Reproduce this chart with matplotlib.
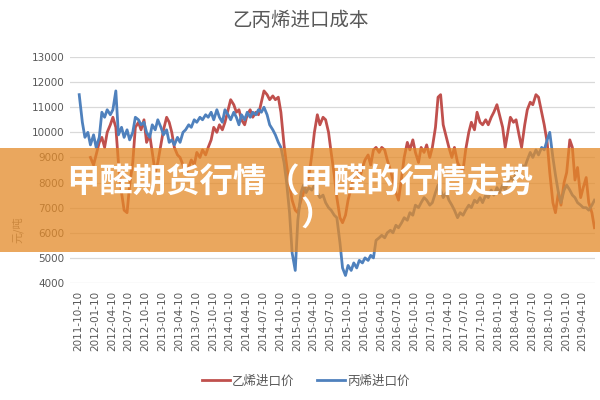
import numpy as np
import pandas as pd
import matplotlib
matplotlib.use("Agg")
import matplotlib.pyplot as plt
from matplotlib.patches import Rectangle

plt.rcParams['font.family'] = ['Noto Sans CJK SC', 'DejaVu Sans']

title = "乙丙烯进口成本"
ylabel = "元/吨"
series_names = ["乙烯进口价", "丙烯进口价"]
banner_line1 = "甲醛期货行情（甲醛的行情走势"
banner_line2 = "）"

# semi-monthly readings, first point mid Oct 2011
propylene = [
    11500, 10400, 9800, 10000, 9500, 9900, 9400, 9800, 10800, 10600,
    10900, 10700, 10900, 11650, 9900, 10200, 9800, 10100, 9700, 10000,
    10600, 10500, 10300, 10400, 10000, 9800, 10300, 10100, 10500, 10200,
    9900, 10100, 9600, 9700, 9500, 9800, 9600, 10000, 10100, 10300,
    10200, 10500, 10400, 10600, 10500, 10700, 10600, 10800, 10500, 10900,
    10600, 10400, 10900, 10700, 10500, 10800, 10600, 10300, 10700, 10500,
    10800, 10600, 10800, 10700, 10900, 10800, 11000, 10700, 10300, 10100,
    9900, 9600, 9400, 8800, 8000, 6800, 5200, 4500, 6500, 7600,
    7900, 7600, 7800, 7700, 7900, 7600, 7400, 7500, 7200, 7000,
    6900, 6700, 6600, 5600, 4600, 4300, 4700, 4500, 4800, 4600,
    4900, 4800, 5000, 4900, 5100, 5000, 5700, 5800, 5900, 5800,
    6000, 6100, 6000, 6300, 6200, 6400, 6600, 6500, 6800, 6700,
    7100, 7000, 7200, 7400, 7300, 7100, 7200, 7600, 7900, 7700,
    7400, 7600, 7300, 7100, 6900, 6600, 6800, 6700, 6900, 7100,
    7000, 7300, 7200, 7400, 7200, 7500, 7400, 7700, 7500, 7800,
    7600, 7900, 7700, 8000, 8200, 8100, 8400, 8500, 8700, 8600,
    8900, 9200, 9000, 9300, 9100, 9400, 9300, 9700, 10000, 9000,
    8300, 7600, 7200, 7700, 7900, 7700, 7500, 7400, 7200, 7100,
    7000, 7000, 6900, 7100, 7300,
]

ethylene = [
    None, None, None, None, 9000, 8700, 9100, 9600, 9800, 9400,
    10000, 10300, 10600, 10200, 8800, 7600, 6900, 6800, 7900, 8800,
    10200, 10400, 10100, 10500, 9600, 9900, 9200, 8400, 8800, 9500,
    10100, 10600, 10400, 10000, 9400, 9100, 9000, 8700, 8300, 8600,
    8900, 8700, 9200, 9000, 9300, 9100, 9400, 9700, 10200, 10000,
    10300, 10100, 10400, 10900, 11300, 11100, 10800, 10900, 10500, 10300,
    10700, 10900, 10600, 10800, 10700, 11200, 11650, 11500, 11300, 11450,
    11300, 11400, 10800, 9500, 8700, 7900, 7300, 6900, 6800, 7300,
    7600, 7900, 8200, 9100, 10000, 10700, 10300, 10600, 10500, 10000,
    9200, 8300, 7400, 6600, 6400, 6700, 7300, 7800, 8300, 8500,
    8100, 8600, 8900, 9100, 8700, 9300, 9400, 9200, 9400, 9300,
    8900, 8500, 8100, 7600, 7300, 8200, 9000, 9600, 9300, 9700,
    9200, 8800, 9400, 9200, 9500, 9000, 9400, 10200, 11400, 11500,
    10300, 9800, 9400, 9000, 9400, 8800, 8600, 8500, 9300, 10000,
    10400, 10100, 10800, 10400, 10300, 10500, 10300, 10600, 10800, 11100,
    10700, 10200, 9400, 10000, 10600, 10400, 10500, 9900, 9400, 10300,
    10900, 11200, 11100, 11500, 11400, 10800, 10300, 9600, 8400, 7200,
    6800, 7600, 7100, 8000, 8400, 9700, 9400, 8100, 8600, 7400,
    7800, 8200, 7200, 6800, 6200,
]

dates = pd.date_range("2011-10-10", periods=len(propylene), freq="SMS")
eth = np.array([np.nan if v is None else v for v in ethylene], dtype=float)
pro = np.array(propylene, dtype=float)

tick_dates = pd.date_range("2011-10-01", "2019-04-01", freq="QS-OCT") + pd.Timedelta(days=9)
tick_labels = [d.strftime("%Y-%m-%d") for d in tick_dates]

fig = plt.figure(figsize=(6, 4), dpi=100)
ax = fig.add_axes([0.117, 0.2925, 0.875, 0.565])

ax.plot(dates, eth, color="#C0504D", lw=2.0, label=series_names[0])
ax.plot(dates, pro, color="#4F81BD", lw=2.0, label=series_names[1])

ax.set_ylim(4000, 13000)
ax.set_yticks(range(4000, 13001, 1000))
ax.set_xlim(pd.Timestamp("2011-08-27"), pd.Timestamp("2019-06-19"))
ax.set_xticks(tick_dates)
ax.set_xticklabels(tick_labels, rotation=90, fontsize=7.5, color="#595959",
                   family="DejaVu Sans")
for lab in ax.get_yticklabels():
    lab.set_fontsize(7.5)
    lab.set_color("#595959")
    lab.set_family("DejaVu Sans")
ax.tick_params(length=0, pad=4)
ax.tick_params(axis="x", pad=6)
for s in ax.spines.values():
    s.set_visible(False)
ax.grid(axis="y", color="#D9D9D9", lw=0.9)
ax.set_axisbelow(True)

fig.text(0.5, 0.95, title, ha="center", va="center", fontsize=14, color="#595959")
fig.text(0.03, 0.425, ylabel, rotation=90, ha="center", va="center",
         fontsize=8, color="#7F7F7F")

fig.legend(loc="center", bbox_to_anchor=(0.51, 0.047), ncol=2, frameon=False,
           fontsize=9, handlelength=2.2, columnspacing=1.8, handletextpad=0.2,
           labelcolor="#595959")

band = Rectangle((0, 1 - 252 / 400), 1, 104 / 400, transform=fig.transFigure,
                 facecolor=(228 / 255, 138 / 255, 40 / 255), alpha=0.75,
                 edgecolor="none", zorder=10)
fig.add_artist(band)
fig.text(0.5, 1 - 183 / 400, banner_line1, ha="center", va="center",
         fontsize=24, fontweight="bold", color="white", zorder=11)
fig.text(0.5, 1 - 215 / 400, banner_line2, ha="left", va="center",
         fontsize=24, fontweight="bold", color="white", zorder=11)

fig.savefig("out.png", dpi=100)
